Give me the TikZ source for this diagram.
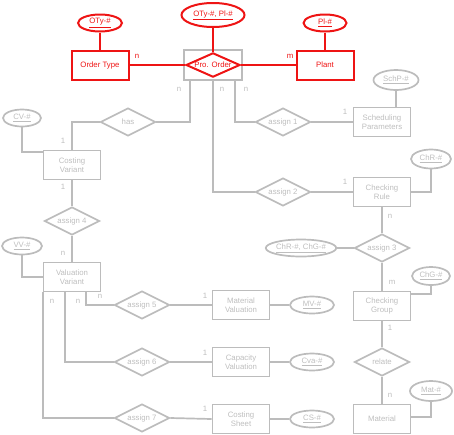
\documentclass[tikz,border=0pt]{standalone}
\usepackage{fontspec}
\setmainfont{Liberation Sans}
\usetikzlibrary{shapes.geometric}
\definecolor{gl}{RGB}{188,188,188}
\definecolor{gt}{RGB}{190,190,190}
\definecolor{rd}{RGB}{238,20,20}
\begin{document}
\begin{tikzpicture}[x=1pt,y=-1pt,
  every node/.style={font=\fontsize{7.8}{9.2}\selectfont},
  ent/.style={rectangle,draw=gl,line width=1.7pt,text=gt,align=center,minimum width=57pt,minimum height=29pt,inner sep=0pt},
  rel/.style={diamond,draw=gl,line width=1.7pt,text=gt,aspect=2,inner sep=0pt,minimum width=55pt,minimum height=28pt},
  attr/.style={ellipse,draw=gl,line width=1.7pt,text=gt,inner sep=0pt,minimum height=17pt},
  rent/.style={ent,draw=rd,text=rd,line width=2pt},
  rattr/.style={attr,draw=rd,text=rd,line width=2pt},
  gline/.style={draw=gl,line width=1.7pt},
  rline/.style={draw=rd,line width=2pt},
  card/.style={text=gt,inner sep=0pt},
  rcard/.style={text=rd,inner sep=0pt}]
\useasboundingbox (0,0) rectangle (454,434);
% red part
\node[rent] (ot) at (100,65) {Order Type};
\node[rattr,minimum width=44pt] (otk) at (100,23) {\underline{OTy-\#}};
\node[rent] (pl) at (325,65) {Plant};
\node[rattr,minimum width=43pt] (plk) at (325,23) {\underline{Pl-\#}};
\node[ent,minimum width=58pt,minimum height=30pt] (po) at (213,65) {};
\node[diamond,draw=rd,text=rd,line width=2pt,aspect=2,inner sep=0pt,minimum width=54pt,minimum height=24pt] (pod) at (213,65) {Pro. Order};
\node[rattr,minimum width=63pt,minimum height=24pt] (pok) at (213,15) {\underline{OTy-\#, Pl-\#}};
\draw[rline] (otk) -- (ot);
\draw[rline] (plk) -- (pl);
\draw[rline] (pok) -- (pod);
\draw[rline] (ot) -- (pod);
\draw[rline] (pod) -- (pl);
\node[rcard] at (137,56) {n};
\node[rcard] at (290,56) {m};
% relationships
\node[rel] (has) at (128,122) {has};
\node[rel] (a1) at (283,122) {assign 1};
\node[rel] (a2) at (283,192) {assign 2};
\node[rel] (a3) at (382,248) {assign 3};
\node[rel] (a4) at (72,221) {assign 4};
\node[rel] (a5) at (142,305) {assign 5};
\node[rel] (a6) at (142,362) {assign 6};
\node[rel] (a7) at (142,418) {assign 7};
\node[rel] (rel) at (382,362) {relate};
% entities
\node[ent] (cv) at (72,165) {Costing\\Variant};
\node[ent] (vv) at (72,277) {Valuation\\Variant};
\node[ent] (sp) at (382,122) {Scheduling\\Parameters};
\node[ent] (cr) at (382,192) {Checking\\Rule};
\node[ent] (cg) at (382,306) {Checking\\Group};
\node[ent] (mat) at (382,419) {Material};
\node[ent] (mv) at (241,305) {Material\\Valuation};
\node[ent] (cpv) at (241,362) {Capacity\\Valuation};
\node[ent] (cs) at (241,419) {Costing\\Sheet};
% attributes
\node[attr,minimum width=38pt] (cvk) at (22,118) {\underline{CV-\#}};
\node[attr,minimum width=40pt] (vvk) at (22,246) {\underline{VV-\#}};
\node[attr,minimum width=45pt,minimum height=20pt] (spk) at (396,80) {\underline{SchP-\#}};
\node[attr,minimum width=40pt,minimum height=19pt] (crk) at (431,159) {\underline{ChR-\#}};
\node[attr,minimum width=65pt] (ck3) at (301,248) {\underline{ChR-\#, ChG-\#}};
\node[attr,minimum width=38pt,minimum height=18pt] (cgk) at (431,276) {\underline{ChG-\#}};
\node[attr,minimum width=42pt,minimum height=20pt] (matk) at (431,391) {\underline{Mat-\#}};
\node[attr,minimum width=44pt] (mvk) at (312,305) {\underline{MV-\#}};
\node[attr,minimum width=44pt] (cpvk) at (312,362) {\underline{Cva-\#}};
\node[attr,minimum width=44pt] (csk) at (312,419) {\underline{CS-\#}};
% connectors from Pro. Order
\draw[gline] ([xshift=-23pt]po.south) |- (has.east);
\draw[gline] (has.west) -| (cv.north);
\draw[gline] (po.south) |- (a2.west);
\draw[gline] ([xshift=22pt]po.south) |- (a1.west);
\draw[gline] (a1.east) -- (sp.west);
\draw[gline] (spk.south) -- (spk.south |- sp.north);
\draw[gline] (a2.east) -- (cr.west);
\draw[gline] (crk.south) |- (cr.east);
\draw[gline] (cr.south) -- (a3.north);
\draw[gline] (ck3.east) -- (a3.west);
\draw[gline] (a3.south) -- (cg.north);
\draw[gline] (cgk.south) |- ([yshift=-3pt]cg.north east);
\draw[gline] (cg.south) -- (rel.north);
\draw[gline] (rel.south) -- (mat.north);
\draw[gline] (matk.south) |- ([yshift=2pt]mat.east);
% left column
\draw[gline] (cvk.south) |- ([yshift=-2pt]cv.north west);
\draw[gline] (cv.south) -- (a4.north);
\draw[gline] (a4.south) -- (vv.north);
\draw[gline] (vvk.south) |- (vv.west);
\draw[gline] (vv.south west) |- (a7.west);
\draw[gline] ([xshift=22pt]vv.south west) |- (a6.west);
\draw[gline] ([xshift=43pt]vv.south west) |- (a5.west);
\draw[gline] (a5.east) -- (mv.west);
\draw[gline] (a6.east) -- (cpv.west);
\draw[gline] (a7.east) -- (cs.west);
\draw[gline] (mv.east) -- (mvk.west);
\draw[gline] (cpv.east) -- (cpvk.west);
\draw[gline] (cs.east) -- (csk.west);
% cardinalities
\node[card] at (179,89) {n};
\node[card] at (222,89) {n};
\node[card] at (246,89) {n};
\node[card] at (63,141) {1};
\node[card] at (345,112) {1};
\node[card] at (345,182) {1};
\node[card] at (63,187) {1};
\node[card] at (63,253) {n};
\node[card] at (390,216) {n};
\node[card] at (392,282) {m};
\node[card] at (390,328) {1};
\node[card] at (390,395) {n};
\node[card] at (52,301) {n};
\node[card] at (78,301) {n};
\node[card] at (100,296) {n};
\node[card] at (205,296) {1};
\node[card] at (205,353) {1};
\node[card] at (205,409) {1};
\end{tikzpicture}
\end{document}
